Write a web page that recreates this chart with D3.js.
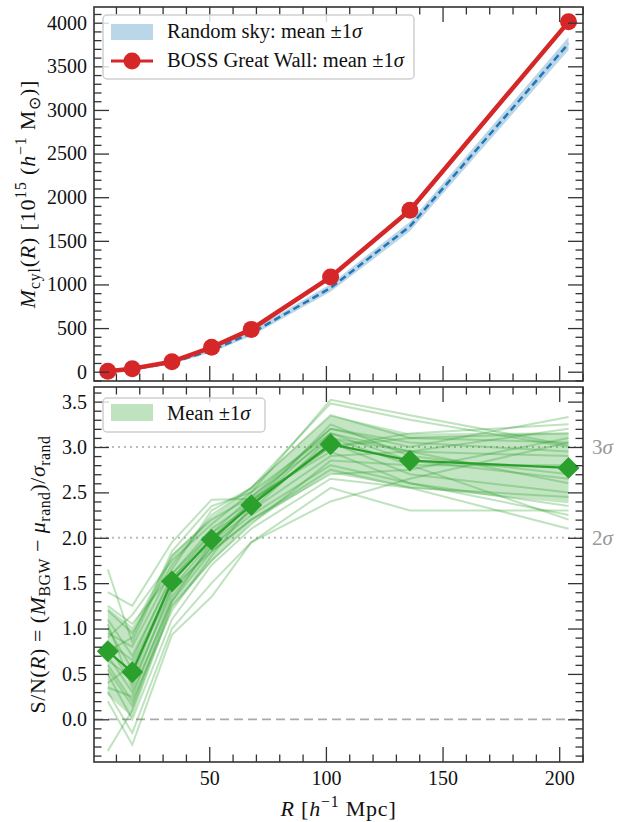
<!DOCTYPE html>
<html>
<head>
<meta charset="utf-8">
<script src="https://cdn.jsdelivr.net/npm/d3@7/dist/d3.min.js"></script>
<style>
  body { margin: 0; background: #fff; }
  svg text { font-family: "Liberation Serif", "Times New Roman", serif; }
</style>
</head>
<body>
<svg id="chart" width="620" height="822"></svg>
<script>
// Cylinder radius R [h^-1 Mpc]
const radius = [6.5, 17, 34, 51, 68, 102, 136, 204];

// Enclosed mass, 10^15 h^-1 Msun
const massWall = [5, 35, 115, 280, 485, 1085, 1850, 4010];
const massRandMean = [3, 25, 105, 245, 440, 960, 1665, 3760];
const massRandSigma = [8, 12, 18, 25, 30, 45, 55, 77];

// Signal-to-noise, mean and spread over realisations
const snMean = [0.75, 0.52, 1.52, 1.98, 2.36, 3.03, 2.85, 2.77];
const snSigma = [0.48, 0.50, 0.30, 0.25, 0.20, 0.32, 0.30, 0.39];

// Individual realisations of S/N(R)
const snRealisations = [
  [1.65, 0.85, 1.80, 2.20, 2.45, 3.10, 2.95, 2.90],
  [1.40, 1.25, 1.95, 2.42, 2.43, 2.95, 2.60, 2.25],
  [1.25, 1.05, 1.60, 2.10, 2.40, 3.20, 3.05, 2.95],
  [1.20, 0.95, 1.70, 2.25, 2.55, 3.35, 3.10, 3.15],
  [1.10, 0.70, 1.55, 2.05, 2.35, 3.05, 2.70, 2.50],
  [1.00, 0.55, 1.45, 1.95, 2.30, 2.90, 2.95, 3.20],
  [0.90, 1.15, 1.75, 2.15, 2.50, 3.52, 3.35, 3.02],
  [0.80, 0.40, 1.40, 1.90, 2.25, 2.80, 2.60, 2.35],
  [0.70, 0.30, 1.30, 1.85, 2.20, 2.70, 2.75, 3.10],
  [0.60, 0.20, 1.20, 1.80, 2.35, 3.15, 2.95, 2.60],
  [0.50, 0.00, 1.10, 1.70, 2.10, 2.65, 2.55, 2.45],
  [0.40, 0.60, 1.50, 2.00, 2.40, 3.00, 3.10, 3.05],
  [0.30, -0.15, 1.00, 1.50, 1.95, 2.40, 2.65, 3.05],
  [0.20, -0.28, 0.93, 1.35, 1.95, 2.55, 2.30, 2.30],
  [-0.35, 0.10, 1.25, 1.75, 2.15, 2.85, 2.80, 2.80],
  [0.95, 0.80, 1.65, 2.30, 2.55, 3.48, 3.30, 3.00],
  [0.65, 0.45, 1.55, 2.00, 2.35, 3.25, 2.90, 2.70],
  [0.35, 0.25, 1.35, 1.90, 2.30, 3.10, 2.80, 2.20],
  [0.85, 0.65, 1.60, 2.05, 2.45, 3.20, 3.00, 3.33],
  [1.05, 0.35, 1.45, 1.85, 2.20, 2.75, 2.55, 2.10],
  [0.55, 0.15, 1.30, 1.95, 2.40, 3.00, 3.15, 3.25],
  [0.75, 0.90, 1.85, 2.35, 2.50, 3.15, 2.85, 2.65]
];

// Tick values
const radiusTicks = [50, 100, 150, 200];
const radiusMinor = d3.range(10, 211, 10);
const massTicks = [0, 500, 1000, 1500, 2000, 2500, 3000, 3500, 4000];
const massMinor = d3.range(-100, 4101, 100);
const snTicks = [0.0, 0.5, 1.0, 1.5, 2.0, 2.5, 3.0, 3.5];
const snMinor = d3.range(-4, 37).map(d => d / 10);
const sigmaLevels = [2, 3];

const C = {
  red: "#d62728", blue: "#1f77b4", green: "#2ca02c",
  axis: "#333", grey: "#999"
};
const SERIF = '"Liberation Serif", "Times New Roman", serif';

const svg = d3.select("#chart");
const L = 94, R = 583;
const top1 = 7, bot1 = 381, top2 = 387, bot2 = 762;

const x = d3.scaleLinear().domain([0.6, 210.2]).range([L, R]);
const yM = d3.scaleLinear().domain([0, 4000]).range([371.7, 22.7]);
const yS = d3.scaleLinear().domain([0, 3]).range([719.3, 447]);

// Rich text helper: parts with italics / sub / superscripts
function rich(sel, parts, size) {
  sel.style("font-family", SERIF);
  let shift = 0;
  parts.forEach(p => {
    const target = p.sub ? size * 0.22 : p.sup ? -size * 0.4 : 0;
    const ts = sel.append("tspan").text(p.t)
      .attr("dy", target - shift)
      .attr("font-size", (p.sub || p.sup) ? size * 0.72 : size);
    if (p.it) ts.attr("font-style", "italic");
    shift = target;
  });
  return sel;
}

function frame(g, yScale, top, bot, major, minor, showX, fmt) {
  const axes = g.append("g");
  const mk = (axis, tx, ty) => axes.append("g").attr("transform", `translate(${tx},${ty})`).call(axis);
  const yMinor = minor.filter(v => !major.some(m => Math.abs(m - v) < 1e-9));
  const xMinor = radiusMinor.filter(v => !radiusTicks.includes(v));
  // y ticks: left with labels, right without
  mk(d3.axisLeft(yScale).tickValues(major).tickSize(-15).tickPadding(7).tickFormat(fmt), L, 0);
  mk(d3.axisRight(yScale).tickValues(major).tickSize(-15).tickFormat(""), R, 0);
  mk(d3.axisLeft(yScale).tickValues(yMinor).tickSize(-7.5).tickFormat(""), L, 0);
  mk(d3.axisRight(yScale).tickValues(yMinor).tickSize(-7.5).tickFormat(""), R, 0);
  // x ticks: bottom and top
  mk(d3.axisBottom(x).tickValues(radiusTicks).tickSize(-15).tickPadding(9)
      .tickFormat(showX ? d3.format("d") : ""), 0, bot);
  mk(d3.axisTop(x).tickValues(radiusTicks).tickSize(-15).tickFormat(""), 0, top);
  mk(d3.axisBottom(x).tickValues(xMinor).tickSize(-7.5).tickFormat(""), 0, bot);
  mk(d3.axisTop(x).tickValues(xMinor).tickSize(-7.5).tickFormat(""), 0, top);
  axes.selectAll(".domain").remove();
  axes.selectAll("g").attr("font-family", null).attr("font-size", null);
  axes.selectAll(".tick line").attr("stroke", C.axis).attr("stroke-width", 1.3);
  axes.selectAll(".tick text").attr("fill", "#111")
    .style("font-family", SERIF).style("font-size", "20px");
  g.append("rect").attr("x", L).attr("y", top).attr("width", R - L).attr("height", bot - top)
    .attr("fill", "none").attr("stroke", C.axis).attr("stroke-width", 1.6);
}

// ---------- Top panel: enclosed mass ----------
const g1 = svg.append("g");
g1.append("path")
  .datum(radius.map((r, i) => [r, massRandMean[i] - massRandSigma[i], massRandMean[i] + massRandSigma[i]]))
  .attr("fill", C.blue).attr("fill-opacity", 0.3)
  .attr("d", d3.area().x(d => x(d[0])).y0(d => yM(d[1])).y1(d => yM(d[2])));
g1.append("path")
  .datum(radius.map((r, i) => [r, massRandMean[i]]))
  .attr("fill", "none").attr("stroke", C.blue).attr("stroke-width", 2.5)
  .attr("stroke-dasharray", "7,4")
  .attr("d", d3.line().x(d => x(d[0])).y(d => yM(d[1])));
g1.append("path")
  .datum(radius.map((r, i) => [r, massWall[i]]))
  .attr("fill", "none").attr("stroke", C.red).attr("stroke-width", 4.5)
  .attr("stroke-linejoin", "round")
  .attr("d", d3.line().x(d => x(d[0])).y(d => yM(d[1])));
g1.selectAll("circle.wall").data(radius.map((r, i) => [r, massWall[i]]))
  .join("circle").attr("class", "wall")
  .attr("cx", d => x(d[0])).attr("cy", d => yM(d[1])).attr("r", 8.5)
  .attr("fill", C.red);
frame(g1, yM, top1, bot1, massTicks, massMinor, false, d3.format("d"));

// legend (top)
const lg1 = svg.append("g");
lg1.append("rect").attr("x", 103).attr("y", 15).attr("width", 311).attr("height", 64)
  .attr("rx", 4).attr("fill", "#fff").attr("fill-opacity", 0.8)
  .attr("stroke", "#d0d0d0").attr("stroke-width", 1.5);
lg1.append("rect").attr("x", 111).attr("y", 24).attr("width", 42).attr("height", 16)
  .attr("fill", C.blue).attr("fill-opacity", 0.3);
lg1.append("line").attr("x1", 111).attr("x2", 153).attr("y1", 61).attr("y2", 61)
  .attr("stroke", C.red).attr("stroke-width", 3);
lg1.append("circle").attr("cx", 132).attr("cy", 61).attr("r", 8.5).attr("fill", C.red);
rich(lg1.append("text").attr("x", 167).attr("y", 38).attr("fill", "#111"),
  [{t: "Random sky:  mean \u00b11"}, {t: "\u03c3", it: true}], 20.5);
rich(lg1.append("text").attr("x", 167).attr("y", 67).attr("fill", "#111"),
  [{t: "BOSS Great Wall:  mean \u00b11"}, {t: "\u03c3", it: true}], 20.5);

// ---------- Bottom panel: signal-to-noise ----------
const g2 = svg.append("g");
g2.selectAll("line.level").data(sigmaLevels).join("line").attr("class", "level")
  .attr("x1", L).attr("x2", R).attr("y1", d => yS(d)).attr("y2", d => yS(d))
  .attr("stroke", "#bbb").attr("stroke-width", 2).attr("stroke-dasharray", "2,4");
g2.append("line").attr("x1", L).attr("x2", R).attr("y1", yS(0)).attr("y2", yS(0))
  .attr("stroke", "#aaa").attr("stroke-width", 1.8).attr("stroke-dasharray", "9,5");
g2.append("path")
  .datum(radius.map((r, i) => [r, snMean[i] - snSigma[i], snMean[i] + snSigma[i]]))
  .attr("fill", C.green).attr("fill-opacity", 0.28)
  .attr("d", d3.area().x(d => x(d[0])).y0(d => yS(d[1])).y1(d => yS(d[2])));
const snLine = d3.line().x((d, i) => x(radius[i])).y(d => yS(d));
g2.selectAll("path.real").data(snRealisations).join("path").attr("class", "real")
  .attr("fill", "none").attr("stroke", C.green).attr("stroke-opacity", 0.3)
  .attr("stroke-width", 2).attr("d", snLine);
g2.append("path").datum(snMean).attr("fill", "none")
  .attr("stroke", C.green).attr("stroke-width", 2.2).attr("d", snLine);
g2.selectAll("path.dmd").data(snMean).join("path").attr("class", "dmd")
  .attr("transform", (d, i) => `translate(${x(radius[i])},${yS(d)}) rotate(45)`)
  .attr("d", d3.symbol(d3.symbolSquare, 240)())
  .attr("fill", C.green);
frame(g2, yS, top2, bot2, snTicks, snMinor, true, d3.format(".1f"));

// sigma level labels on the right
svg.selectAll("text.lvl").data(sigmaLevels).join("text").attr("class", "lvl")
  .each(function(d) {
    rich(d3.select(this).attr("x", 592).attr("y", yS(d) + 7).attr("fill", C.grey),
      [{t: String(d)}, {t: "\u03c3", it: true}], 21);
  });

// legend (bottom)
const lg2 = svg.append("g");
lg2.append("rect").attr("x", 103).attr("y", 398).attr("width", 162).attr("height", 34)
  .attr("rx", 4).attr("fill", "#fff").attr("fill-opacity", 0.8)
  .attr("stroke", "#d0d0d0").attr("stroke-width", 1.5);
lg2.append("rect").attr("x", 111).attr("y", 404).attr("width", 42).attr("height", 17)
  .attr("fill", C.green).attr("fill-opacity", 0.3);
rich(lg2.append("text").attr("x", 167).attr("y", 420).attr("fill", "#111"),
  [{t: "Mean \u00b11"}, {t: "\u03c3", it: true}], 20.5);

// ---------- Axis labels ----------
rich(svg.append("text").attr("text-anchor", "middle").attr("letter-spacing", 0.8)
  .attr("transform", `translate(${(L + R) / 2},816)`).attr("fill", "#111"),
  [{t: "R", it: true}, {t: " [", }, {t: "h", it: true}, {t: "\u22121", sup: true}, {t: " Mpc]"}], 22);

rich(svg.append("text").attr("text-anchor", "middle").attr("letter-spacing", 0.8)
  .attr("transform", `translate(35,${(top1 + bot1) / 2}) rotate(-90)`).attr("fill", "#111"),
  [{t: "M", it: true}, {t: "cyl", sub: true}, {t: "("}, {t: "R", it: true}, {t: ")  [10"},
   {t: "15", sup: true}, {t: " ("}, {t: "h", it: true}, {t: "\u22121", sup: true},
   {t: " M"}, {t: "\u2299", sub: true}, {t: ")]"}], 22);

rich(svg.append("text").attr("text-anchor", "middle").attr("letter-spacing", 0.5)
  .attr("transform", `translate(45,${(top2 + bot2) / 2}) rotate(-90)`).attr("fill", "#111"),
  [{t: "S/N("}, {t: "R", it: true}, {t: ") = ("}, {t: "M", it: true}, {t: "BGW", sub: true},
   {t: " \u2212 "}, {t: "\u03bc", it: true}, {t: "rand", sub: true}, {t: ")/"},
   {t: "\u03c3", it: true}, {t: "rand", sub: true}], 22);
</script>
</body>
</html>
